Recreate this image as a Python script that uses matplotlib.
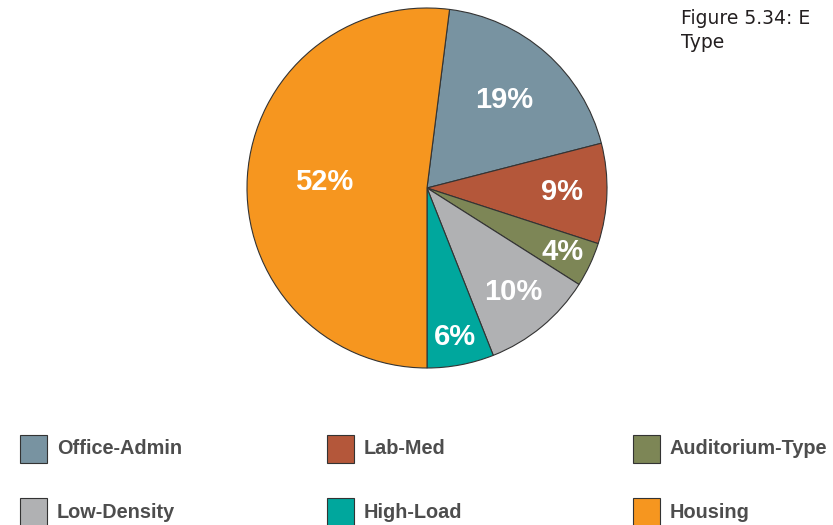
import numpy as np
import matplotlib.pyplot as plt
from matplotlib.patches import Rectangle

# Data
categories = ['Office-Admin', 'Lab-Med', 'Auditorium-Type',
              'Low-Density', 'High-Load', 'Housing']
shares = [19, 9, 4, 10, 6, 52]
colors = ['#7893a1', '#b4573a', '#7d8656', '#b0b1b3', '#00a79d', '#f6961f']
label_dist = [0.65, 0.75, 0.83, 0.75, 0.84, 0.57]

W, H = 833, 525
fig = plt.figure(figsize=(W / 100, H / 100), dpi=100)

# Pie axes: centre (427, 188), radius 180 px
cx, cy, r = 427, 188, 180
ax = fig.add_axes([(cx - r) / W, (H - cy - r) / H, 2 * r / W, 2 * r / H])
wedges, _ = ax.pie(shares, colors=colors, startangle=82.8, counterclock=False,
                   wedgeprops=dict(edgecolor='#333333', linewidth=0.8))
ax.set_aspect('equal')
ax.set_xlim(-1, 1)
ax.set_ylim(-1, 1)

for w, val, d in zip(wedges, shares, label_dist):
    ang = np.deg2rad((w.theta1 + w.theta2) / 2)
    ax.text(d * np.cos(ang), d * np.sin(ang), f'{val}%', color='white',
            fontsize=21, fontweight='bold', family='Liberation Sans',
            ha='center', va='center')

# Title
fig.text(681 / W, 1 - 9 / H, 'Figure 5.34: E\nType',
         fontsize=13.5, family='DejaVu Sans', color='#231f20', va='top',
         linespacing=1.3)

# Legend
col_x = [20, 327, 633]
row_y = [449, 512]
for i, (name, c) in enumerate(zip(categories, colors)):
    x = col_x[i % 3]
    y = row_y[i // 3]
    fig.patches.append(Rectangle((x / W, 1 - (y + 14) / H), 27 / W, 28 / H,
                                 transform=fig.transFigure, facecolor=c,
                                 edgecolor='#333333', linewidth=0.8))
    fig.text((x + 37) / W, 1 - y / H, name, fontsize=14.3, fontweight='bold',
             family='Liberation Sans', color='#4d4d4d', va='center')

fig.savefig('out.png', dpi=100)
